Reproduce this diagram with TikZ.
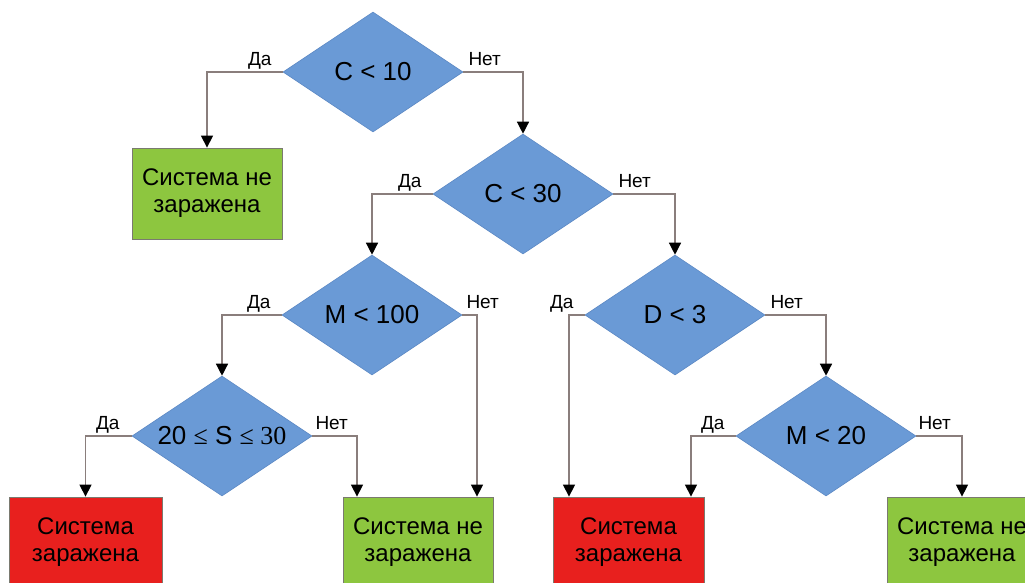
\documentclass[tikz,border=0pt]{standalone}
\usepackage{fontspec}
\setmainfont{Liberation Sans}
\newfontfamily\serifnum{Liberation Serif}
\usetikzlibrary{shapes.geometric,arrows.meta,calc}
\definecolor{dblue}{HTML}{6A9AD6}
\definecolor{dblueline}{HTML}{5A88C4}
\definecolor{boxgreen}{HTML}{8DC63F}
\definecolor{boxred}{HTML}{E8201E}
\definecolor{boxline}{HTML}{7A7A70}
\definecolor{connline}{HTML}{8A7E7C}
\begin{document}
\begin{tikzpicture}[x=1pt,y=-1pt,
  dec/.style={diamond, fill=dblue, draw=dblueline, line width=0.6pt,
    minimum width=180pt, minimum height=120pt, inner sep=0pt, aspect=1.5,
    font=\fontsize{26}{30}\selectfont},
  resbox/.style={rectangle, draw=boxline, line width=0.8pt,
    minimum width=150pt, minimum height=91pt, inner sep=0pt, align=center,
    font=\fontsize{24}{27}\selectfont},
  okbox/.style={resbox, fill=boxgreen},
  badbox/.style={resbox, fill=boxred},
  conn/.style={draw=connline, line width=1.3pt,
    -{Triangle[length=12pt,width=12pt,color=black]}},
  lbl/.style={inner sep=0pt, font=\fontsize{19}{22}\selectfont}
]
\useasboundingbox (0,0) rectangle (1025,582);
\fill[white] (0,0) rectangle (1025,582);

% decisions
\node[dec] (d1) at (373,72) {C < 10};
\node[dec] (d2) at (523,194) {C < 30};
\node[dec] (d3) at (372,315) {M < 100};
\node[dec] (d4) at (675,315) {D < 3};
\node[dec] (d5) at (222,436) {20 {\serifnum≤} S {\serifnum≤ 30}};
\node[dec] (d6) at (826,436) {M < 20};

% results
\node[okbox] (b1) at (207,193.5) {Система не\\заражена};
\node[badbox, minimum width=153pt] (b2) at (85.5,542.5) {Система\\заражена};
\node[okbox] (b3) at (418,542.5) {Система не\\заражена};
\node[badbox, minimum width=151pt] (b4) at (628.5,542.5) {Система\\заражена};
\node[okbox] (b5) at (962,542.5) {Система не\\заражена};

% connectors
\draw[conn] (d1.west) -| (b1.north);
\draw[conn] (d1.east) -| (d2.north);
\draw[conn] (d2.west) -| (d3.north);
\draw[conn] (d2.east) -| (d4.north);
\draw[conn] (d3.west) -| (d5.north);
\draw[conn] (d3.east) -| ([xshift=59pt]b3.north);
\draw[conn] (d5.west) -| (b2.north);
\draw[conn] (d5.east) -| ([xshift=-61pt]b3.north);
\draw[conn] (d4.west) -| ([xshift=-59.5pt]b4.north);
\draw[conn] (d4.east) -| (d6.north);
\draw[conn] (d6.west) -| ([xshift=62.5pt]b4.north);
\draw[conn] (d6.east) -| (b5.north);

% labels
\node[lbl, anchor=base east] (y1) at ([xshift=-11pt,yshift=7pt]d1.west) {Да};
\node[lbl, anchor=base west] (n1) at ([xshift=5pt,yshift=7pt]d1.east) {Нет};
\node[lbl, anchor=base east] (y2) at ([xshift=-11pt,yshift=7pt]d2.west) {Да};
\node[lbl, anchor=base west] (n2) at ([xshift=5pt,yshift=7pt]d2.east) {Нет};
\node[lbl, anchor=base east] (y3) at ([xshift=-11pt,yshift=7pt]d3.west) {Да};
\node[lbl, anchor=base west] (n3) at ([xshift=4pt,yshift=7pt]d3.east) {Нет};
\node[lbl, anchor=base east] (y4) at ([xshift=-11pt,yshift=7pt]d4.west) {Да};
\node[lbl, anchor=base west] (n4) at ([xshift=5pt,yshift=7pt]d4.east) {Нет};
\node[lbl, anchor=base east] (y5) at ([xshift=-12pt,yshift=7pt]d5.west) {Да};
\node[lbl, anchor=base west] (n5) at ([xshift=3pt,yshift=7pt]d5.east) {Нет};
\node[lbl, anchor=base east] (y6) at ([xshift=-11pt,yshift=7pt]d6.west) {Да};
\node[lbl, anchor=base west] (n6) at ([xshift=2pt,yshift=7pt]d6.east) {Нет};
\end{tikzpicture}
\end{document}
